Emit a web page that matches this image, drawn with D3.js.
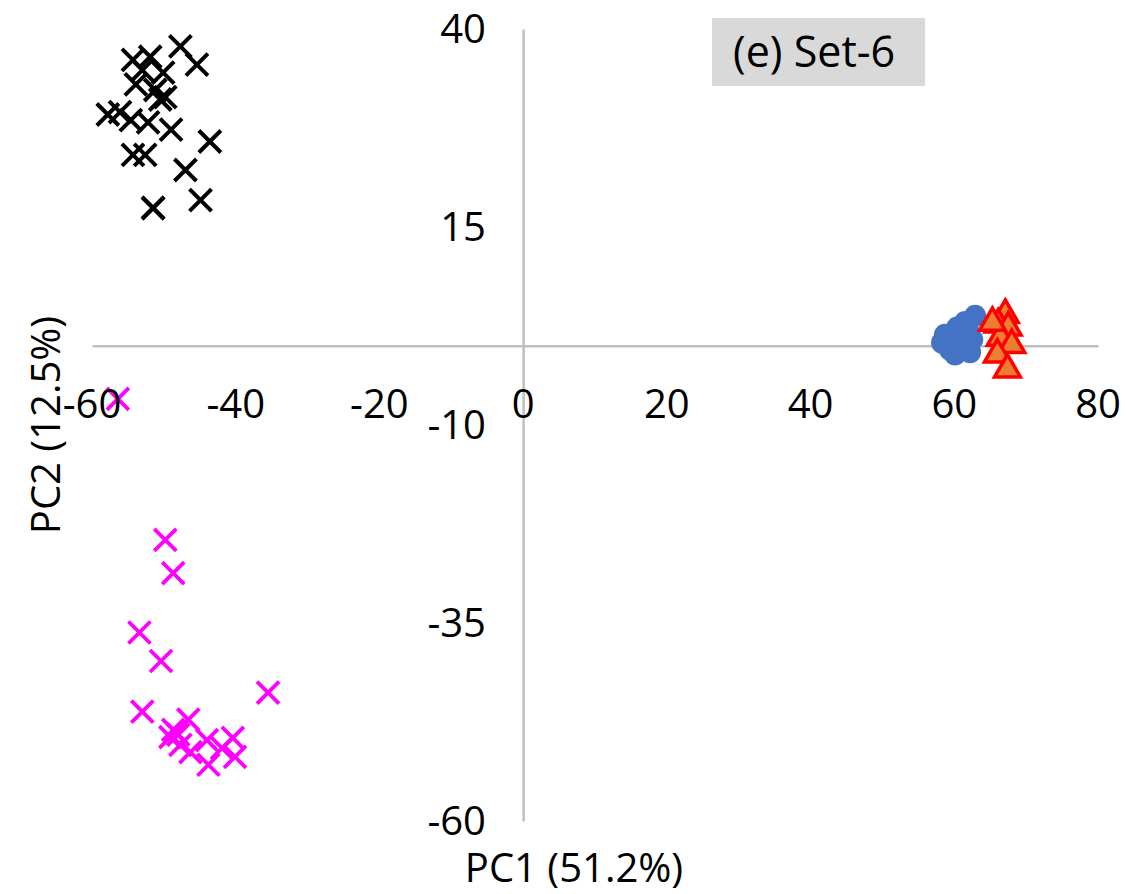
<!DOCTYPE html>
<html>
<head>
<meta charset="utf-8">
<script src="https://cdn.jsdelivr.net/npm/d3@7"></script>
<style>
  html, body { margin: 0; padding: 0; background: #fff; }
  svg { display: block; }
  text { font-family: "Open Sans", sans-serif; fill: #000; }
</style>
</head>
<body>
<svg id="chart" width="1127" height="894"></svg>
<script>
// PCA scores, group by group: [PC1, PC2]
const groupBlack = [
  [-47.7, 37.8], [-45.4, 35.5], [-54.3, 36.1], [-51.9, 36.5], [-50.1, 34.5],
  [-53.9, 33.0], [-51.2, 32.3], [-49.8, 31.4], [-57.8, 29.2], [-54.6, 28.5],
  [-52.2, 28.2], [-49.0, 27.3], [-43.6, 25.8], [-54.3, 24.1], [-52.6, 24.1],
  [-47.0, 22.2], [-44.9, 18.4], [-51.5, 17.4], [-51.5, 17.4], [-53.0, 34.8],
  [-50.5, 31.1], [-56.1, 29.5]
];
const groupMagenta = [
  [-49.8, -24.5], [-48.7, -28.7], [-53.4, -36.2], [-50.4, -39.8], [-35.5, -43.8],
  [-53.0, -46.2], [-46.6, -47.2], [-48.7, -48.5], [-48.0, -49.1], [-47.7, -50.4],
  [-46.3, -51.3], [-44.0, -49.8], [-41.9, -50.8], [-40.4, -49.5], [-43.8, -52.9],
  [-40.1, -51.9], [-56.4, -6.7], [-49.1, -49.4]
];
const groupBlue = [
  [62.9, 3.8], [61.5, 3.0], [60.4, 2.3], [58.7, 1.4], [58.3, 0.4], [59.4, -0.5],
  [60.1, -1.1], [61.2, -0.3], [62.2, -0.8], [62.5, 0.8], [60.8, 1.0], [61.9, 2.0]
];
const groupTriangle = [
  [67.1, 3.9], [66.1, 2.7], [67.5, 2.3], [66.4, 1.0], [68.0, 0.1],
  [66.0, -1.1], [67.4, -3.0], [65.3, 2.9]
];

const xTicks = [-60, -40, -20, 0, 20, 40, 60, 80];
const yTicks = [40, 15, -10, -35, -60];
const xTitle = "PC1 (51.2%)";
const yTitle = "PC2 (12.5%)";
const panelTitle = "(e) Set-6";

const svg = d3.select("#chart");
const x = d3.scaleLinear().domain([-60, 80]).range([92, 1098]);
const y = d3.scaleLinear().domain([-60, 40]).range([821, 29]);

const axisColor = "#bfbfbf";

// axis lines crossing at the origin
const xAxis = d3.axisBottom(x).tickValues(xTicks).tickSize(0).tickFormat("");
svg.append("g").attr("transform", `translate(0,${y(0)})`).call(xAxis)
  .call(g => g.select(".domain").attr("stroke", axisColor).attr("stroke-width", 2.5));
const yAxis = d3.axisLeft(y).tickValues(yTicks).tickSize(0).tickFormat("");
svg.append("g").attr("transform", `translate(${x(0)},0)`).call(yAxis)
  .call(g => g.select(".domain").attr("stroke", axisColor).attr("stroke-width", 2.5));

// markers
const xPath = s => `M${-s},${-s}L${s},${s}M${-s},${s}L${s},${-s}`;

svg.append("g").selectAll("path").data(groupBlack).join("path")
  .attr("transform", d => `translate(${x(d[0])},${y(d[1])})`)
  .attr("d", xPath(11)).attr("stroke", "#000").attr("stroke-width", 4).attr("fill", "none");

svg.append("g").selectAll("path").data(groupMagenta).join("path")
  .attr("transform", d => `translate(${x(d[0])},${y(d[1])})`)
  .attr("d", xPath(11)).attr("stroke", "#ff00ff").attr("stroke-width", 3.8).attr("fill", "none");

svg.append("g").selectAll("circle").data(groupBlue).join("circle")
  .attr("cx", d => x(d[0])).attr("cy", d => y(d[1])).attr("r", 11)
  .attr("fill", "#4472c4");

const tri = d3.symbol().type(d3.symbolTriangle).size(290);
svg.append("g").selectAll("path").data(groupTriangle).join("path")
  .attr("transform", d => `translate(${x(d[0])},${y(d[1])})`)
  .attr("d", tri).attr("fill", "#ed7d31").attr("stroke", "#ff0000")
  .attr("stroke-width", 3.5).attr("stroke-linejoin", "miter");

// tick labels
svg.append("g").selectAll("text").data(xTicks).join("text")
  .attr("x", d => x(d)).attr("y", 418)
  .attr("text-anchor", "middle").attr("font-size", 40)
  .text(d => d);

svg.append("g").selectAll("text").data(yTicks).join("text")
  .attr("x", 486).attr("y", d => y(d) + 14)
  .attr("text-anchor", "end").attr("font-size", 40)
  .text(d => d);

// axis titles
svg.append("text").attr("x", 574).attr("y", 882)
  .attr("text-anchor", "middle").attr("font-size", 40).text(xTitle);
svg.append("text")
  .attr("transform", `translate(60,425) rotate(-90)`)
  .attr("text-anchor", "middle").attr("font-size", 40).text(yTitle);

// panel label
svg.append("rect").attr("x", 712).attr("y", 18).attr("width", 213).attr("height", 68)
  .attr("fill", "#d9d9d9");
svg.append("text").attr("x", 733).attr("y", 67).attr("font-size", 43).text(panelTitle);
</script>
</body>
</html>
